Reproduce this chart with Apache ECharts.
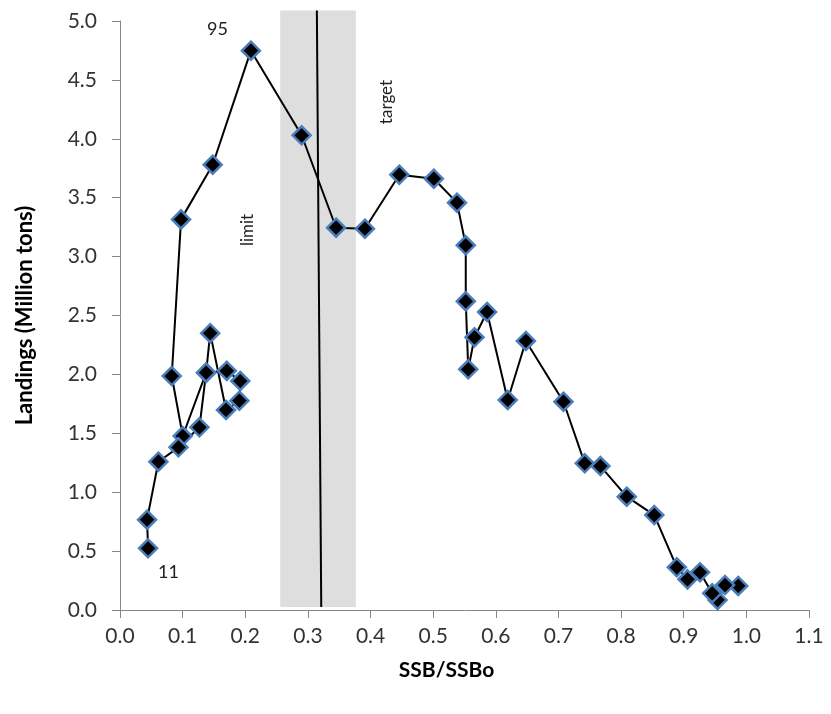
<!DOCTYPE html>
<html>
<head>
<meta charset="utf-8">
<script src="https://cdn.jsdelivr.net/npm/echarts@6/dist/echarts.min.js"></script>
<style>
html,body{margin:0;padding:0;background:#fff;}
#chart{width:831px;height:714px;}
</style>
</head>
<body>
<div id="chart"></div>
<script>
// SSB/SSBo (x) and landings in million tons (y), in time order
var ssb = [0.987,0.966,0.954,0.9455,0.926,0.906,0.889,0.853,0.809,0.767,0.742,0.708,0.648,0.619,0.586,0.566,0.556,0.552,0.552,0.538,0.501,0.446,0.391,0.345,0.290,0.209,
           0.148,0.0975,0.0826,0.1002,0.1375,0.144,0.1693,0.1906,0.192,0.1705,0.1375,0.1268,0.0933,0.0613,0.0432,0.0448];
var landings = [0.204,0.212,0.085,0.142,0.320,0.260,0.362,0.806,0.962,1.222,1.245,1.768,2.284,1.783,2.530,2.315,2.043,2.620,3.096,3.458,3.661,3.695,3.237,3.245,4.030,4.748,
                3.780,3.316,1.986,1.477,2.015,2.350,1.698,1.777,1.944,2.030,2.015,1.551,1.381,1.259,0.767,0.524];
// reference band (target range) and limit line
var bandX = [0.2558, 0.3765];
var bandY = [0.025, 5.09];
var limitLine = [[0.3143, 5.09], [0.3213, 0.025]];
var xTicks = {min: 0, max: 1.1, interval: 0.1};
var yTicks = {min: 0, max: 5, interval: 0.5};

var points = ssb.map(function (x, i) { return [x, landings[i]]; });
var FONT = 'Lato';
var chart = echarts.init(document.getElementById('chart'));
chart.setOption({
  animation: false,
  backgroundColor: '#ffffff',
  grid: {left: 120, right: 22, top: 21, bottom: 104, containLabel: false},
  xAxis: {
    type: 'value', min: xTicks.min, max: xTicks.max, interval: xTicks.interval,
    name: 'SSB/SSBo', nameLocation: 'middle', nameGap: 50,
    nameTextStyle: {fontFamily: FONT, fontWeight: 'bold', fontSize: 21, color: '#000', padding: [0, 36, 0, 0]},
    axisLine: {show: true, lineStyle: {color: '#868686', width: 1}},
    axisTick: {show: true, length: 8, lineStyle: {color: '#868686'}},
    axisLabel: {fontFamily: FONT, fontSize: 21, color: '#333', margin: 16,
      formatter: function (v) { return v.toFixed(1); }},
    splitLine: {show: false}
  },
  yAxis: {
    type: 'value', min: yTicks.min, max: yTicks.max, interval: yTicks.interval,
    name: 'Landings (Million tons)', nameLocation: 'middle', nameGap: 84,
    nameTextStyle: {fontFamily: FONT, fontWeight: 'bold', fontSize: 22, color: '#000'},
    axisLine: {show: true, lineStyle: {color: '#868686', width: 1}},
    axisTick: {show: true, length: 8, lineStyle: {color: '#868686'}},
    axisLabel: {fontFamily: FONT, fontSize: 21, color: '#333', margin: 23,
      formatter: function (v) { return v.toFixed(1); }},
    splitLine: {show: false}
  },
  series: [
    {
      type: 'custom', clip: false, z: 1, silent: true,
      data: [[bandX[0], bandX[1], bandY[0], bandY[1]]],
      renderItem: function (params, api) {
        var p1 = api.coord([api.value(0), api.value(3)]);
        var p2 = api.coord([api.value(1), api.value(2)]);
        return {type: 'rect', shape: {x: p1[0], y: p1[1], width: p2[0] - p1[0], height: p2[1] - p1[1]},
          style: {fill: '#dedede'}};
      }
    },
    {
      type: 'line', data: limitLine, clip: false, z: 2, silent: true,
      symbol: 'none', lineStyle: {color: '#000', width: 2}
    },
    {
      type: 'line', data: points, z: 3, clip: false,
      symbol: 'diamond', symbolSize: 18,
      lineStyle: {color: '#000', width: 2},
      itemStyle: {color: '#000', borderColor: '#4a7ebb', borderWidth: 2.5}
    }
  ],
  graphic: [
    {type: 'text', left: 207, top: 20, style: {text: '95', fontFamily: FONT, fontSize: 18, fill: '#222'}},
    {type: 'text', left: 158, top: 563, style: {text: '11', fontFamily: FONT, fontSize: 18, fill: '#222'}},
    {type: 'text', x: 248, y: 230, rotation: Math.PI / 2,
      style: {text: 'limit', fontFamily: FONT, fontSize: 17, fill: '#222', align: 'center', verticalAlign: 'middle'}},
    {type: 'text', x: 387, y: 102, rotation: Math.PI / 2,
      style: {text: 'target', fontFamily: FONT, fontSize: 17, fill: '#222', align: 'center', verticalAlign: 'middle'}}
  ]
});
</script>
</body>
</html>
